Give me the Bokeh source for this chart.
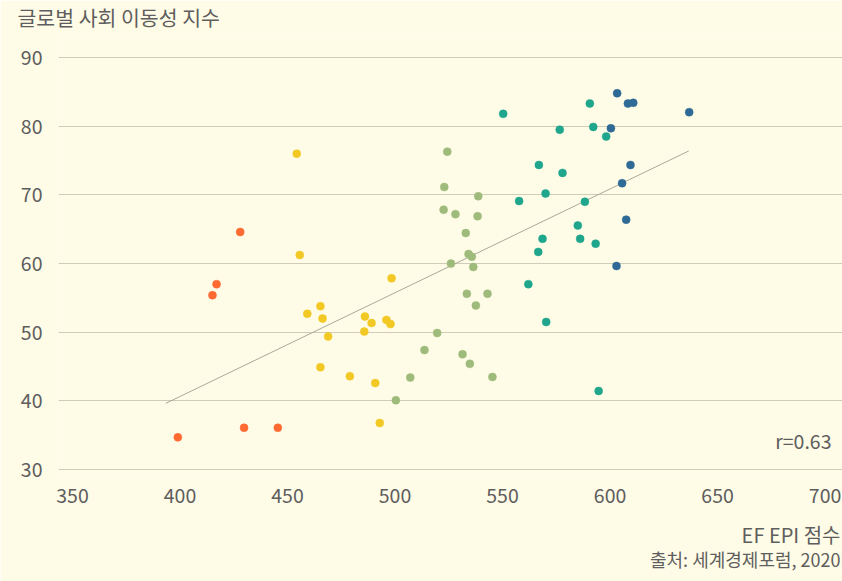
from bokeh.plotting import figure
from bokeh.models import ColumnDataSource, Label, FixedTicker, Title
from bokeh.embed import file_html
from bokeh.resources import INLINE

# ---- data (EF EPI score, global social mobility index) ----
very_low_x = [399.0, 415.1, 417.0, 428.0, 429.8, 445.5]
very_low_y = [34.7, 55.4, 57.0, 64.6, 36.1, 36.1]

low_x = [454.3, 455.7, 459.2, 465.3, 466.3, 465.3, 468.9, 479.0, 485.7, 486.0,
         489.1, 490.8, 492.9, 496.0, 497.9, 498.4]
low_y = [76.0, 61.25, 52.7, 53.8, 52.0, 44.9, 49.4, 43.6, 50.1, 52.3,
         51.35, 42.6, 36.8, 51.8, 51.2, 57.85]

moderate_x = [500.4, 507.1, 513.7, 519.6, 522.6, 522.9, 524.3, 526.0, 528.1, 531.4,
              532.9, 533.4, 534.2, 534.8, 535.7, 536.4, 537.6, 538.4, 538.7, 543.0, 545.3]
moderate_y = [40.1, 43.4, 47.4, 49.9, 67.85, 71.15, 76.3, 60.0, 67.2, 46.8,
              64.45, 55.6, 61.4, 45.4, 61.0, 59.5, 53.9, 66.9, 69.8, 55.6, 43.5]

high_x = [550.3, 557.7, 562.0, 566.6, 566.9, 568.6, 570.0, 570.3, 576.6, 577.9,
          585.0, 586.1, 588.3, 590.6, 592.2, 593.3, 594.7, 598.2]
high_y = [81.8, 69.1, 57.0, 61.7, 74.35, 63.6, 70.2, 51.5, 79.5, 73.2,
          65.55, 63.6, 69.0, 83.3, 79.9, 62.9, 41.45, 78.5]

very_high_x = [600.4, 603.0, 603.3, 605.6, 607.5, 608.3, 609.5, 610.8, 636.8]
very_high_y = [79.7, 59.65, 84.8, 71.7, 66.4, 83.3, 74.35, 83.4, 82.05]

trend_x = [393.4, 636.6]
trend_y = [39.65, 76.4]

x_ticks = [350, 400, 450, 500, 550, 600, 650, 700]
y_ticks = [30, 40, 50, 60, 70, 80, 90]

title_text = "글로벌 사회 이동성 지수"
x_label_text = "EF EPI 점수"
source_text = "출처: 세계경제포럼, 2020"
r_text = "r=0.63"

groups = [
    (very_low_x, very_low_y, "#ff6a33"),
    (low_x, low_y, "#f2c824"),
    (moderate_x, moderate_y, "#9fbb7b"),
    (high_x, high_y, "#1fa68d"),
    (very_high_x, very_high_y, "#2e6a95"),
]

BG = "#fefbe6"
TXT = "#5e5e5e"
FONT = "Noto Sans CJK KR"

p = figure(width=842, height=581, output_backend="svg", toolbar_location=None,
           x_range=(343.5, 708.1), y_range=(29, 93.5),
           min_border_left=58, min_border_right=0, min_border_top=33, min_border_bottom=105)
p.background_fill_color = BG
p.border_fill_color = BG
p.outline_line_color = None

p.xgrid.grid_line_color = None
p.ygrid.grid_line_color = "#cfccb8"
p.ygrid.grid_line_width = 1

p.xaxis.ticker = FixedTicker(ticks=x_ticks)
p.yaxis.ticker = FixedTicker(ticks=y_ticks)
for ax in (p.xaxis[0], p.yaxis[0]):
    ax.axis_line_color = None
    ax.major_tick_line_color = None
    ax.minor_tick_line_color = None
    ax.major_tick_in = 0
    ax.major_tick_out = 0
    ax.minor_tick_in = 0
    ax.minor_tick_out = 0
    ax.major_label_text_font = FONT
    ax.major_label_text_font_size = "19.5px"
    ax.major_label_text_color = TXT
p.yaxis.major_label_standoff = 16
p.xaxis.major_label_standoff = 11

p.line(trend_x, trend_y, line_color="#aaa99b", line_width=1)

for xs, ys, col in groups:
    src = ColumnDataSource(dict(x=xs, y=ys))
    p.scatter("x", "y", source=src, size=8, fill_color=col, line_color=col, line_width=0.5)

def make_title(text, align, size, offset, standoff, valign):
    return Title(text=text, align=align, offset=offset, standoff=standoff,
                 vertical_align=valign,
                 text_font=FONT, text_font_size=size, text_font_style="normal",
                 text_color=TXT)

p.add_layout(make_title(title_text, "left", "20.5px", -41, 0, "top"), "above")
p.add_layout(make_title(x_label_text, "right", "20px", 2, 25, "bottom"), "below")
p.add_layout(make_title(source_text, "right", "18px", 2, -32, "top"), "below")

p.add_layout(Label(x=773, y=36, x_units="screen", y_units="screen", text=r_text,
                   text_align="right", text_baseline="middle", text_font=FONT,
                   text_font_size="19.5px", text_color=TXT))

open("out.html", "w").write(file_html(p, INLINE))
